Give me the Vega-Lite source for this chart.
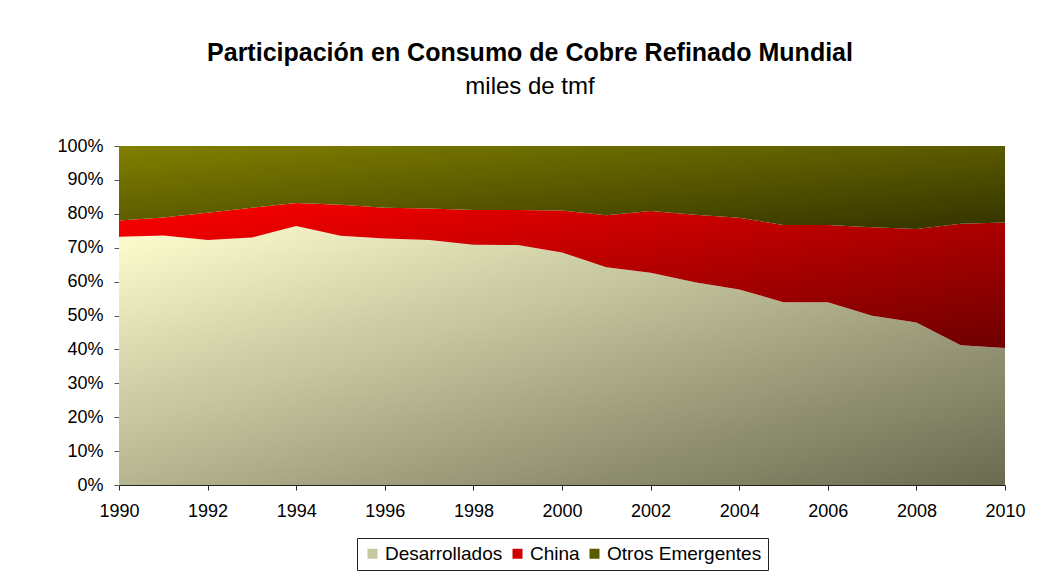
{
  "$schema": "https://vega.github.io/schema/vega-lite/v6.json",
  "width": 886,
  "height": 339,
  "padding": {"left": 56, "top": 41, "right": 10, "bottom": 5},
  "background": "white",
  "config": {
    "font": "Liberation Sans",
    "view": {"stroke": null},
    "axis": {"labelColor": "black", "labelFont": "Liberation Sans", "grid": false},
    "legend": {"layout": {"bottom": {"anchor": "middle"}}}
  },
  "title": {
    "text": "Participación en Consumo de Cobre Refinado Mundial",
    "subtitle": "miles de tmf",
    "fontSize": 25,
    "fontWeight": "bold",
    "color": "black",
    "subtitleFontSize": 24,
    "subtitleColor": "black",
    "subtitleFont": "Liberation Sans",
    "subtitlePadding": 9,
    "offset": 38,
    "dx": -32,
    "anchor": "middle"
  },
  "data": {
    "values": [
      {"year": 1990, "series": "Desarrollados", "share": 73.2},
      {"year": 1990, "series": "China", "share": 4.8},
      {"year": 1990, "series": "Otros Emergentes", "share": 22.0},
      {"year": 1991, "series": "Desarrollados", "share": 73.6},
      {"year": 1991, "series": "China", "share": 5.3},
      {"year": 1991, "series": "Otros Emergentes", "share": 21.1},
      {"year": 1992, "series": "Desarrollados", "share": 72.3},
      {"year": 1992, "series": "China", "share": 8.0},
      {"year": 1992, "series": "Otros Emergentes", "share": 19.7},
      {"year": 1993, "series": "Desarrollados", "share": 73.0},
      {"year": 1993, "series": "China", "share": 8.8},
      {"year": 1993, "series": "Otros Emergentes", "share": 18.2},
      {"year": 1994, "series": "Desarrollados", "share": 76.4},
      {"year": 1994, "series": "China", "share": 6.8},
      {"year": 1994, "series": "Otros Emergentes", "share": 16.8},
      {"year": 1995, "series": "Desarrollados", "share": 73.5},
      {"year": 1995, "series": "China", "share": 9.2},
      {"year": 1995, "series": "Otros Emergentes", "share": 17.3},
      {"year": 1996, "series": "Desarrollados", "share": 72.7},
      {"year": 1996, "series": "China", "share": 9.1},
      {"year": 1996, "series": "Otros Emergentes", "share": 18.2},
      {"year": 1997, "series": "Desarrollados", "share": 72.3},
      {"year": 1997, "series": "China", "share": 9.3},
      {"year": 1997, "series": "Otros Emergentes", "share": 18.4},
      {"year": 1998, "series": "Desarrollados", "share": 70.9},
      {"year": 1998, "series": "China", "share": 10.2},
      {"year": 1998, "series": "Otros Emergentes", "share": 18.9},
      {"year": 1999, "series": "Desarrollados", "share": 70.8},
      {"year": 1999, "series": "China", "share": 10.3},
      {"year": 1999, "series": "Otros Emergentes", "share": 18.9},
      {"year": 2000, "series": "Desarrollados", "share": 68.6},
      {"year": 2000, "series": "China", "share": 12.4},
      {"year": 2000, "series": "Otros Emergentes", "share": 19.0},
      {"year": 2001, "series": "Desarrollados", "share": 64.2},
      {"year": 2001, "series": "China", "share": 15.4},
      {"year": 2001, "series": "Otros Emergentes", "share": 20.4},
      {"year": 2002, "series": "Desarrollados", "share": 62.6},
      {"year": 2002, "series": "China", "share": 18.2},
      {"year": 2002, "series": "Otros Emergentes", "share": 19.2},
      {"year": 2003, "series": "Desarrollados", "share": 59.8},
      {"year": 2003, "series": "China", "share": 19.9},
      {"year": 2003, "series": "Otros Emergentes", "share": 20.3},
      {"year": 2004, "series": "Desarrollados", "share": 57.7},
      {"year": 2004, "series": "China", "share": 21.1},
      {"year": 2004, "series": "Otros Emergentes", "share": 21.2},
      {"year": 2005, "series": "Desarrollados", "share": 53.9},
      {"year": 2005, "series": "China", "share": 22.8},
      {"year": 2005, "series": "Otros Emergentes", "share": 23.3},
      {"year": 2006, "series": "Desarrollados", "share": 53.9},
      {"year": 2006, "series": "China", "share": 22.8},
      {"year": 2006, "series": "Otros Emergentes", "share": 23.3},
      {"year": 2007, "series": "Desarrollados", "share": 49.9},
      {"year": 2007, "series": "China", "share": 26.1},
      {"year": 2007, "series": "Otros Emergentes", "share": 24.0},
      {"year": 2008, "series": "Desarrollados", "share": 47.9},
      {"year": 2008, "series": "China", "share": 27.6},
      {"year": 2008, "series": "Otros Emergentes", "share": 24.5},
      {"year": 2009, "series": "Desarrollados", "share": 41.2},
      {"year": 2009, "series": "China", "share": 35.9},
      {"year": 2009, "series": "Otros Emergentes", "share": 22.9},
      {"year": 2010, "series": "Desarrollados", "share": 40.4},
      {"year": 2010, "series": "China", "share": 37.0},
      {"year": 2010, "series": "Otros Emergentes", "share": 22.6}
    ]
  },
  "transform": [
    {"calculate": "indexof(['Desarrollados','China','Otros Emergentes'], datum.series)", "as": "ord"},
    {"stack": "share", "groupby": ["year"], "sort": [{"field": "ord", "order": "ascending"}], "offset": "normalize", "as": ["y0", "y1"]}
  ],
  "encoding": {
    "x": {
      "field": "year",
      "type": "quantitative",
      "scale": {"domain": [1990, 2010], "nice": false, "zero": false},
      "axis": {
        "title": null,
        "values": [1990, 1992, 1994, 1996, 1998, 2000, 2002, 2004, 2006, 2008, 2010],
        "format": "d",
        "labelFontSize": 18,
        "tickSize": 5,
        "labelPadding": 12,
        "domainColor": "#222222",
        "tickColor": "#222222",
        "labelFlush": false,
        "labelOverlap": false
      }
    },
    "y": {
      "field": "y0",
      "type": "quantitative",
      "scale": {"domain": [0, 1], "nice": false},
      "axis": {
        "title": null,
        "values": [0, 0.1, 0.2, 0.3, 0.4, 0.5, 0.6, 0.7, 0.8, 0.9, 1],
        "format": ".0%",
        "labelFontSize": 18,
        "tickSize": 5,
        "labelPadding": 11,
        "domainColor": "#888888",
        "tickColor": "#555555"
      }
    },
    "y2": {"field": "y1"}
  },
  "layer": [
    {
      "transform": [{"filter": "datum.series === 'Desarrollados'"}],
      "mark": {
        "type": "area",
        "fill": {"gradient": "linear", "x1": 0, "y1": 0, "x2": 1, "y2": 1, "stops": [{"offset": 0, "color": "#FFFFD0"}, {"offset": 1, "color": "#6A6A50"}]}
      }
    },
    {
      "transform": [{"filter": "datum.series === 'China'"}],
      "mark": {
        "type": "area",
        "fill": {"gradient": "linear", "x1": 0, "y1": 0, "x2": 1, "y2": 1, "stops": [{"offset": 0, "color": "#FF0000"}, {"offset": 1, "color": "#6E0000"}]}
      }
    },
    {
      "transform": [{"filter": "datum.series === 'Otros Emergentes'"}],
      "mark": {
        "type": "area",
        "fill": {"gradient": "linear", "x1": 0, "y1": 0, "x2": 1, "y2": 1, "stops": [{"offset": 0, "color": "#808000"}, {"offset": 1, "color": "#333300"}]}
      }
    },
    {
      "transform": [{"filter": "datum.series === 'none'"}],
      "mark": {"type": "square"},
      "encoding": {
        "y2": null,
        "color": {
          "field": "series",
          "type": "nominal",
          "scale": {"domain": ["Desarrollados", "China", "Otros Emergentes"], "range": ["#C8C8A0", "#D00000", "#5A5A00"]},
          "legend": {
            "title": null,
            "orient": "bottom",
            "direction": "horizontal",
            "offset": 18,
            "padding": 6,
            "strokeColor": "#222222",
            "labelFontSize": 19,
            "labelColor": "black",
            "labelFont": "Liberation Sans",
            "symbolType": "square",
            "symbolSize": 100,
            "symbolStrokeWidth": 0,
            "symbolOpacity": 1,
            "labelOffset": 3,
            "columnPadding": 5
          }
        }
      }
    }
  ]
}
